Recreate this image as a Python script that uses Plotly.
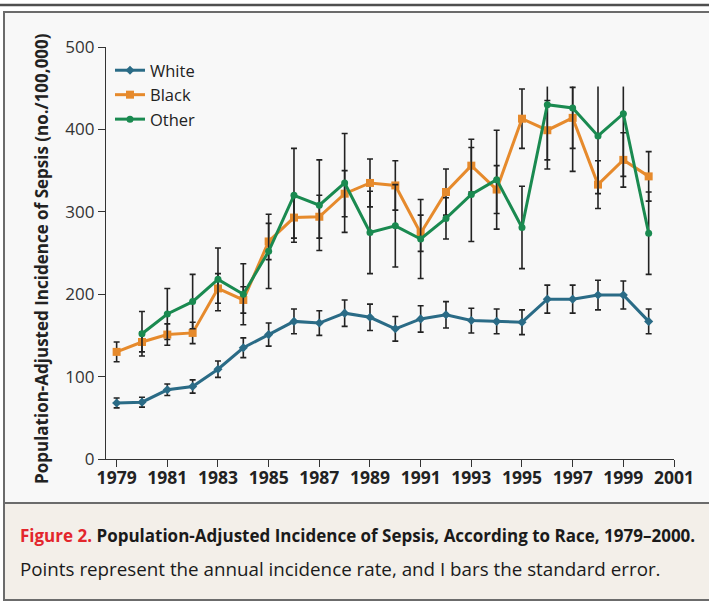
import plotly.graph_objects as go

# Population-adjusted incidence of sepsis by race, 1979-2000 (per 100,000)
years = list(range(1979, 2001))
white = [68, 69, 84, 88, 109, 135, 151, 167, 165, 177, 172, 158, 170, 175, 168, 167, 166, 194, 194, 199, 199, 167]
white_se = [6, 6, 7, 8, 10, 12, 14, 15, 15, 16, 16, 15, 16, 16, 15, 15, 15, 17, 17, 18, 17, 15]

black = [130, 142, 151, 153, 207, 193, 264, 293, 294, 322, 335, 332, 274, 324, 356, 327, 413, 399, 414, 333, 363, 343]
black_se = [12, 12, 13, 13, 18, 16, 22, 25, 26, 28, 29, 30, 22, 28, 32, 29, 36, 36, 37, 29, 33, 30]

other_years = list(range(1980, 2001))
other = [152, 176, 191, 218, 200, 252, 320, 308, 335, 275, 283, 267, 292, 321, 339, 281, 430, 426, 392, 419, 274]
other_se = [27, 31, 33, 38, 37, 45, 57, 55, 60, 50, 50, 48, 25, 57, 60, 50, 78, 77, 70, 76, 50]

# Upper error bars are cut off at this level (drawn without a cap there)
bar_ceiling = 452

x_ticks = list(range(1979, 2002, 2))
y_ticks = list(range(0, 501, 100))

WHITE_C = "#2a6b86"
BLACK_C = "#e68a2c"
OTHER_C = "#1a8a50"
ERR_C = "#222222"
FONT = "Open Sans"

# Plot-area geometry in pixels (used to place page furniture)
FIG_W, FIG_H = 709, 602
L, R, T, B = 106, 674, 47, 459


def px_x(px):
    return (px - L) / (R - L)


def px_y(py):
    return (B - py) / (B - T)


def err(se, width=3, **kw):
    return dict(type="data", array=se, color=ERR_C, thickness=1.6, width=width, **kw)


fig = go.Figure()

fig.add_trace(go.Scatter(
    x=years, y=white, name="White", mode="lines+markers",
    line=dict(color=WHITE_C, width=3),
    marker=dict(symbol="diamond", size=7, color=WHITE_C),
    error_y=err(white_se),
))

fig.add_trace(go.Scatter(
    x=years, y=black, name="Black", mode="lines+markers",
    line=dict(color=BLACK_C, width=3),
    marker=dict(symbol="square", size=8, color=BLACK_C),
    error_y=err(black_se),
))

# Other: bars that would pass the ceiling get their upper half drawn separately
other_plus = []
clipped_plus = []
for v, s in zip(other, other_se):
    if v + s > bar_ceiling:
        other_plus.append(0)
        clipped_plus.append(bar_ceiling - v)
    else:
        other_plus.append(s)
        clipped_plus.append(0)

fig.add_trace(go.Scatter(
    x=other_years, y=other, mode="markers", showlegend=False, hoverinfo="skip",
    marker=dict(size=1, color="rgba(0,0,0,0)"),
    error_y=dict(type="data", symmetric=False, array=clipped_plus,
                 arrayminus=[0] * len(other), color=ERR_C, thickness=1.6, width=0),
))

fig.add_trace(go.Scatter(
    x=other_years, y=other, name="Other", mode="lines+markers",
    line=dict(color=OTHER_C, width=3),
    marker=dict(symbol="circle", size=7, color=OTHER_C),
    error_y=err(other_plus, symmetric=False, arrayminus=other_se),
))

shapes = [
    # rule across the top of the page
    dict(type="line", xref="paper", yref="paper",
         x0=px_x(0), x1=px_x(FIG_W), y0=px_y(5), y1=px_y(5),
         line=dict(color="#4f4f4f", width=2.5), layer="below"),
    # figure panel
    dict(type="rect", xref="paper", yref="paper",
         x0=px_x(4), x1=px_x(FIG_W + 6), y0=px_y(12), y1=px_y(600),
         fillcolor="#f8f8f8", line=dict(color="#6b6b6b", width=2), layer="below"),
    # caption panel
    dict(type="rect", xref="paper", yref="paper",
         x0=px_x(4), x1=px_x(FIG_W + 6), y0=px_y(503), y1=px_y(600),
         fillcolor="#f3efe9", line=dict(color="#6b6b6b", width=2), layer="below"),
]

annotations = [
    dict(text="<b>Population-Adjusted Incidence of Sepsis (no./100,000)</b>",
         xref="paper", yref="paper", x=px_x(41), y=px_y(259),
         textangle=-90, showarrow=False, xanchor="center", yanchor="middle",
         font=dict(family=FONT, size=17, color="#222222")),
    dict(text="<b><span style='color:#e3262c'>Figure 2.</span> "
              "Population-Adjusted Incidence of Sepsis, According to Race, 1979–2000.</b>",
         xref="paper", yref="paper", x=px_x(18), y=px_y(535),
         showarrow=False, xanchor="left", yanchor="middle",
         font=dict(family=FONT, size=17, color="#1a1a1a")),
    dict(text="Points represent the annual incidence rate, and I bars the standard error.",
         xref="paper", yref="paper", x=px_x(18), y=px_y(569),
         showarrow=False, xanchor="left", yanchor="middle",
         font=dict(family=FONT, size=18.8, color="#1a1a1a")),
]

fig.update_layout(
    width=FIG_W, height=FIG_H, autosize=False,
    margin=dict(l=L, r=FIG_W - R, t=T, b=FIG_H - B, pad=0),
    paper_bgcolor="white", plot_bgcolor="rgba(0,0,0,0)",
    font=dict(family=FONT, color="#222222"),
    shapes=shapes, annotations=annotations,
    legend=dict(x=px_x(110), y=px_y(53), xanchor="left", yanchor="top",
                bgcolor="rgba(0,0,0,0)", font=dict(family=FONT, size=16.5, color="#222222"),
                tracegroupgap=0, itemwidth=30),
    xaxis=dict(range=[1978.58, 2001], tickvals=x_ticks, ticks="outside", ticklen=7,
               tickwidth=1.3, tickcolor="#333333", showline=True, linecolor="#333333",
               linewidth=1.3, showgrid=False, zeroline=False, ticklabelstandoff=-4,
               tickfont=dict(family=FONT, size=17.5, color="#222222", weight="bold")),
    yaxis=dict(range=[0, 500], tickvals=y_ticks, ticks="outside", ticklen=7,
               tickwidth=1.3, tickcolor="#333333", showline=True, linecolor="#333333",
               linewidth=1.3, showgrid=False, zeroline=False,
               tickfont=dict(family=FONT, size=17, color="#333333")),
)

fig.write_html("out.html")
